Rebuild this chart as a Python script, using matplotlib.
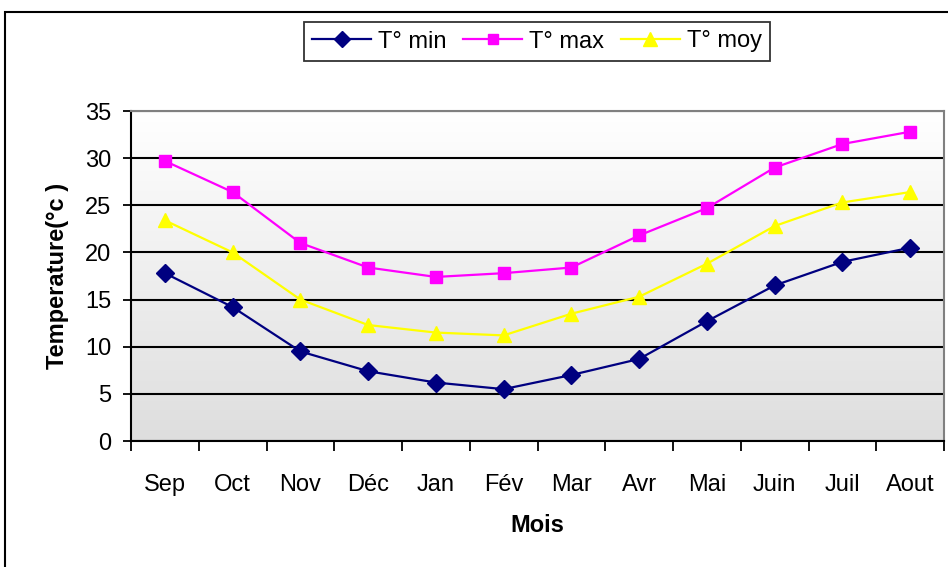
import matplotlib
matplotlib.use("Agg")
import matplotlib.pyplot as plt
import numpy as np
from matplotlib.patches import Rectangle

plt.rcParams['font.family'] = ['Liberation Sans', 'DejaVu Sans']

# Monthly temperatures (°C)
months = ['Sep', 'Oct', 'Nov', 'Déc', 'Jan', 'Fév', 'Mar', 'Avr', 'Mai', 'Juin', 'Juil', 'Aout']
t_min = [17.8, 14.2, 9.5, 7.4, 6.2, 5.5, 7.0, 8.7, 12.7, 16.5, 19.0, 20.5]
t_max = [29.7, 26.4, 21.0, 18.4, 17.4, 17.8, 18.4, 21.8, 24.7, 29.0, 31.5, 32.8]
t_moy = [23.4, 20.0, 15.0, 12.3, 11.5, 11.2, 13.5, 15.3, 18.8, 22.8, 25.3, 26.4]

FS = 17

fig = plt.figure(figsize=(9.48, 5.67), dpi=100)

# outer chart frame
fig.patches.append(Rectangle((5 / 948, -0.05), 1.0, 1 - 12 / 567 + 0.05,
                             transform=fig.transFigure, fill=False,
                             edgecolor='black', linewidth=1.5))

ax = fig.add_axes([131 / 948, 1 - 441 / 567, (944 - 131) / 948, 330 / 567])

# gradient background: white at top, light grey at bottom
grad = np.linspace(1.0, 0.0, 256).reshape(-1, 1)
ax.imshow(grad, extent=[0, 1, 0, 1], transform=ax.transAxes, aspect='auto',
          cmap=matplotlib.colors.LinearSegmentedColormap.from_list('g', ['#dedede', '#ffffff']),
          zorder=0)

x = np.arange(len(months))
ax.plot(x, t_min, color='#000080', marker='D', markersize=9, linewidth=1.6,
        label='T° min', zorder=4)
ax.plot(x, t_max, color='#ff00ff', marker='s', markersize=8.5, linewidth=1.6,
        label='T° max', zorder=4)
ax.plot(x, t_moy, color='#ffff00', marker='^', markersize=10.5, linewidth=1.6,
        label='T° moy', zorder=4)

ax.set_xlim(-0.5, len(months) - 0.5)
ax.set_ylim(0, 35)
ax.set_yticks(range(0, 36, 5))
ax.yaxis.grid(True, color='black', linewidth=1.5, zorder=1)
ax.set_axisbelow(True)

ax.set_xticks(x)
ax.set_xticklabels(months, fontsize=FS)
ax.set_xticks(np.arange(-0.5, len(months), 1), minor=True)
ax.tick_params(axis='x', which='major', length=0, pad=24)
ax.tick_params(axis='x', which='minor', length=7, width=1.3, direction='out')
ax.tick_params(axis='y', length=6, width=1.3, labelsize=FS, pad=8)

for s in ['left', 'bottom']:
    ax.spines[s].set_linewidth(1.5)
    ax.spines[s].set_color('black')
for s in ['top', 'right']:
    ax.spines[s].set_linewidth(1.5)
    ax.spines[s].set_color('#808080')

ax.set_xlabel('Mois', fontsize=FS, fontweight='bold', labelpad=13)
ax.set_ylabel('Temperature(°c )', fontsize=FS, fontweight='bold', labelpad=12)

leg = fig.legend(loc='center', bbox_to_anchor=(537 / 948, 1 - 41.5 / 567), ncol=3,
                 fontsize=FS, frameon=True, fancybox=False, edgecolor='black',
                 handlelength=2.5, handletextpad=0.3, columnspacing=0.7,
                 borderpad=0.35, markerscale=0.9)
leg.get_frame().set_linewidth(1.3)

fig.savefig('out.png', dpi=100)
